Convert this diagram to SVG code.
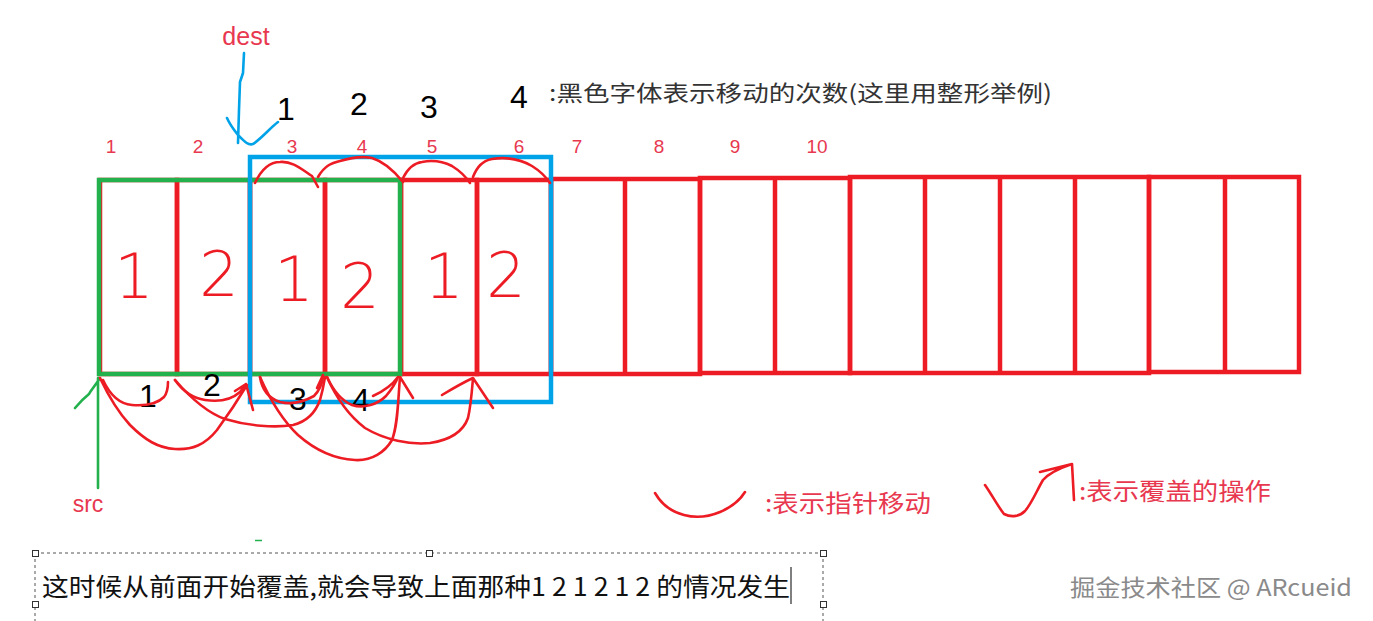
<svg xmlns="http://www.w3.org/2000/svg" width="1373" height="621" viewBox="0 0 1373 621">
<style>
.cell{fill:none;stroke:#ed1c24;stroke-width:4.5}
.grn{fill:none;stroke:#22b14c;stroke-width:4.5}
.blu{fill:none;stroke:#00a2e8;stroke-width:4.5}
.arc{fill:none;stroke:#ed1c24;stroke-width:2.6;stroke-linecap:round;stroke-linejoin:round}
.idx{font-family:"Liberation Sans","Noto Sans",sans-serif;font-size:19px;fill:#e8384f;text-anchor:middle}
.big{font-family:"DejaVu Sans","Liberation Sans",sans-serif;font-weight:200;font-size:62px;fill:#ed1c24;text-anchor:middle}
.hand{font-family:"Liberation Sans","DejaVu Sans",sans-serif;font-size:32px;fill:#000;text-anchor:middle}
.cn{font-family:"Noto Sans CJK SC","Noto Sans",sans-serif}
</style>
<rect width="1373" height="621" fill="#fff"/>

<g id="cells">
  <g id="cell-1"><rect class="cell" x="100" y="180" width="77" height="194"/><text class="big" x="134" y="298">1</text></g>
  <g id="cell-2"><rect class="cell" x="177" y="180" width="73" height="194"/><text class="big" x="219" y="296">2</text></g>
  <g id="cell-3"><rect class="cell" x="250" y="180" width="75" height="194"/><text class="big" x="294" y="301">1</text></g>
  <g id="cell-4"><rect class="cell" x="325" y="180" width="76" height="194"/><text class="big" x="360" y="308">2</text></g>
  <g id="cell-5"><rect class="cell" x="401" y="180" width="76" height="194"/><text class="big" x="444" y="298">1</text></g>
  <g id="cell-6"><rect class="cell" x="477" y="180" width="74" height="194"/><text class="big" x="506" y="297">2</text></g>
  <g id="cells-7-8"><rect class="cell" x="551" y="179" width="149" height="195"/><line class="cell" x1="625" y1="179" x2="625" y2="374"/></g>
  <g id="cells-9-10"><rect class="cell" x="700" y="178" width="150" height="195"/><line class="cell" x1="775" y1="178" x2="775" y2="373"/></g>
  <g id="cells-11-14"><rect class="cell" x="850" y="177" width="299" height="196"/><line class="cell" x1="925" y1="177" x2="925" y2="373"/><line class="cell" x1="1000" y1="177" x2="1000" y2="373"/><line class="cell" x1="1075" y1="177" x2="1075" y2="373"/></g>
  <g id="cells-15-16"><rect class="cell" x="1149" y="177" width="150" height="195"/><line class="cell" x1="1225" y1="177" x2="1225" y2="372"/></g>
</g>

<g id="src-window"><rect class="grn" x="99" y="180" width="301" height="194"/></g>
<g id="dest-window"><rect class="blu" x="250" y="157" width="301" height="245"/></g>

<g id="index-labels">
  <text class="idx" x="111" y="153">1</text>
  <text class="idx" x="198" y="153">2</text>
  <text class="idx" x="292" y="153">3</text>
  <text class="idx" x="362" y="153">4</text>
  <text class="idx" x="432" y="153">5</text>
  <text class="idx" x="519" y="153">6</text>
  <text class="idx" x="577" y="153">7</text>
  <text class="idx" x="659" y="153">8</text>
  <text class="idx" x="735" y="153">9</text>
  <text class="idx" x="817" y="153">10</text>
</g>

<g id="dest-label">
  <text x="246" y="45" font-family="Liberation Sans,sans-serif" font-size="25" fill="#e8384f" text-anchor="middle">dest</text>
  <path d="M244,53 L243,73 L240,82 L239,110 L238,143 M227,118 C230,125 234,130 238,135 C243,140 248,146 253,144 C262,138 270,128 278,122" fill="none" stroke="#00a2e8" stroke-width="2.6" stroke-linecap="round" stroke-linejoin="round"/>
</g>

<g id="src-label">
  <text x="88" y="512" font-family="Liberation Sans,sans-serif" font-size="23" fill="#e8384f" text-anchor="middle">src</text>
  <path d="M98,378 L98,488 M100,378 C95,386 91,390 89,394 C84,398 80,402 75,408" fill="none" stroke="#22b14c" stroke-width="2.6" stroke-linecap="round" stroke-linejoin="round"/>
</g>

<g id="move-counts">
  <text class="hand" x="286" y="120" font-size="30">1</text>
  <text class="hand" x="359" y="115" font-size="30">2</text>
  <text class="hand" x="429" y="118" font-size="38">3</text>
  <text class="hand" x="519" y="108" font-size="40">4</text>
  <text class="hand" x="148" y="407" font-size="32">1</text>
  <text class="hand" x="212" y="396" font-size="24">2</text>
  <text class="hand" x="298" y="410" font-size="34">3</text>
  <text class="hand" x="361" y="411" font-size="34">4</text>
</g>

<g id="connectors">
  <path class="arc" d="M255,183 C262,168 270,162 280,162 C292,161 300,168 312,176 L318,187"/>
  <path class="arc" d="M318,177 C325,165 332,163 340,161 C350,158 362,156 372,158 C385,162 395,172 403,182"/>
  <path class="arc" d="M403,178 C408,168 414,163 422,162 C432,160 442,161 452,166 C460,171 466,177 470,183"/>
  <path class="arc" d="M473,177 C477,167 482,161 492,159 C505,157 520,159 532,166 C540,171 546,177 550,183"/>
  <path class="arc" d="M103,380 C110,395 120,404 132,405 C145,406 156,405 164,397 C168,392 168,386 168,382"/>
  <path class="arc" d="M175,380 C182,390 192,398 205,400 C218,402 230,401 240,392 L246,384 M235,391 L246,384 L253,410"/>
  <path class="arc" d="M260,377 C262,390 268,398 280,402 C292,405 305,401 314,396 C319,391 322,384 323,377 M317,388 L323,375"/>
  <path class="arc" d="M327,377 C333,390 340,400 352,405 C364,409 378,404 386,396 C392,389 396,382 398,377 M373,396 C384,391 393,384 398,377"/>
  <path class="arc" d="M100,378 C108,395 118,412 130,425 C145,440 158,448 175,449 C192,450 205,445 217,430 C228,415 238,400 247,385"/>
  <path class="arc" d="M175,380 C188,395 205,412 225,419 C248,426 275,428 293,425 C305,422 315,414 320,400 C323,390 324,383 325,377"/>
  <path class="arc" d="M260,377 C268,395 280,418 298,435 C315,450 335,459 355,460 C372,461 385,452 392,440 C398,425 398,400 400,377 L413,398"/>
  <path class="arc" d="M327,377 C335,395 348,415 365,428 C385,440 410,445 430,443 C450,440 463,432 468,418 C471,405 472,390 473,378 L493,408 M442,395 C452,389 462,383 473,378"/>
</g>

<g id="legend-count">
  <text x="549" y="101" class="cn" font-size="22" fill="#333" textLength="503" lengthAdjust="spacingAndGlyphs">:黑色字体表示移动的次数(这里用整形举例)</text>
</g>

<g id="legend-move">
  <path class="arc" d="M655,493 C662,505 672,512 684,515 C695,518 708,517 720,512 C732,507 740,500 745,492"/>
  <text x="765" y="512" class="cn" font-size="24" fill="#e8384f" textLength="166" lengthAdjust="spacingAndGlyphs">:表示指针移动</text>
</g>

<g id="legend-cover">
  <path class="arc" d="M985,485 C992,495 997,505 1004,514 C1012,518 1020,516 1025,511 C1032,503 1037,490 1043,480 C1050,472 1060,468 1072,464 M1040,472 L1072,464 L1074,500"/>
  <text x="1079" y="500" class="cn" font-size="24" fill="#e8384f" textLength="192" lengthAdjust="spacingAndGlyphs">:表示覆盖的操作</text>
</g>

<g id="caption-box">
  <path d="M35,553 L823,553 M35,553 L35,621 M823,553 L823,621" fill="none" stroke="#555" stroke-width="1" stroke-dasharray="3 3"/>
  <g fill="#fff" stroke="#333" stroke-width="1">
    <rect x="32.5" y="550.5" width="6" height="6"/>
    <rect x="426.5" y="550.5" width="6" height="6"/>
    <rect x="820.5" y="550.5" width="6" height="6"/>
    <rect x="32.5" y="601.5" width="6" height="6"/>
    <rect x="820.5" y="601.5" width="6" height="6"/>
  </g>
  <line x1="255" y1="540.5" x2="262" y2="540.5" stroke="#22b14c" stroke-width="1.5"/>
  <text x="42" y="596" class="cn" font-size="25" fill="#111" textLength="748" lengthAdjust="spacingAndGlyphs">这时候从前面开始覆盖,就会导致上面那种1 2 1 2 1 2 的情况发生</text>
  <line x1="791" y1="567" x2="791" y2="604" stroke="#000" stroke-width="1"/>
</g>

<g id="watermark">
  <text x="1071" y="597" class="cn" font-size="23" fill="#fff" textLength="282" lengthAdjust="spacingAndGlyphs">掘金技术社区 @ ARcueid</text>
  <text x="1070" y="596" class="cn" font-size="23" fill="#8a8a8a" textLength="282" lengthAdjust="spacingAndGlyphs">掘金技术社区 @ ARcueid</text>
</g>
</svg>
